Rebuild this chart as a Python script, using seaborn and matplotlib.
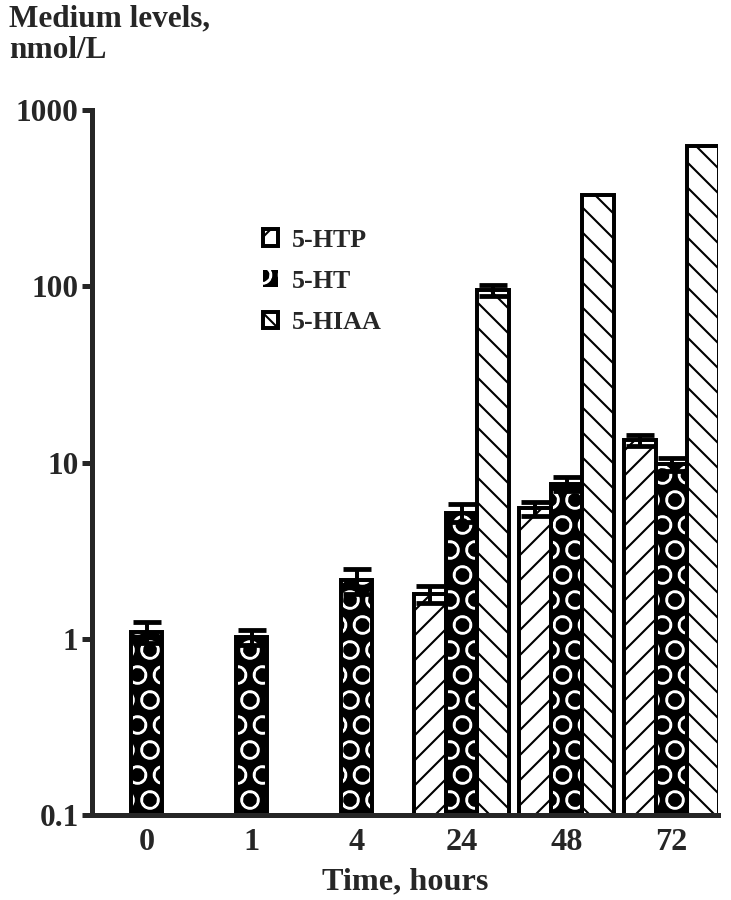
import numpy as np
import pandas as pd
import matplotlib
matplotlib.use("Agg")
import matplotlib.pyplot as plt
from matplotlib.patches import Patch, Rectangle
import seaborn as sns

# data (nmol/L), NaN = not detected
times = ["0", "1", "4", "24", "48", "72"]
compounds = ["5-HTP", "5-HT", "5-HIAA"]
htp = [np.nan, np.nan, np.nan, 1.8, 5.5, 13.4]
ht = [1.1, 1.02, 2.15, 5.2, 7.6, 9.8]
hiaa = [np.nan, np.nan, np.nan, 95.0, 330.0, 620.0]
# error (SEM), 0 = too small to show
htp_err = [np.nan, np.nan, np.nan, 0.2, 0.5, 0.9]
ht_err = [0.15, 0.1, 0.35, 0.6, 0.7, 0.8]
hiaa_err = [np.nan, np.nan, np.nan, 7.0, 0.0, 0.0]

rows = []
for name, vals, errs in [("5-HTP", htp, htp_err), ("5-HT", ht, ht_err), ("5-HIAA", hiaa, hiaa_err)]:
    for t, v, e in zip(times, vals, errs):
        rows.append({"time": t, "compound": name, "value": v, "err": e})
df = pd.DataFrame(rows).dropna(subset=["value"])

# drawn at 150 dpi so the hatch spacing comes out like the original
DPI = 150
sns.set_style("ticks")
plt.rcParams["font.family"] = ["Liberation Serif", "DejaVu Serif"]
plt.rcParams["font.weight"] = "bold"
plt.rcParams["hatch.linewidth"] = 1.0

fig = plt.figure(figsize=(731 / DPI, 900 / DPI), dpi=DPI)
ax = fig.add_axes([0.126, 0.094, 0.856, 0.784])
ax.set_yscale("log")

sns.barplot(data=df, x="time", y="value", hue="compound", order=times,
            hue_order=compounds, errorbar=None, width=0.9, ax=ax,
            palette=["white", "black", "white"], edgecolor="black",
            linewidth=1.9, legend=False)

hatches = {"5-HTP": "//", "5-HT": "O", "5-HIAA": "\\\\"}
for cont, name in zip(ax.containers, compounds):
    sub = df[df.compound == name].set_index("time")
    sub = sub.loc[[t for t in times if t in sub.index]]
    for bar, (t, r) in zip(cont, sub.iterrows()):
        if name == "5-HT":
            bar.set_facecolor("black")
            bar.set_edgecolor("white")
            bar.set_linewidth(0)
            ax.add_patch(Rectangle(bar.get_xy(), bar.get_width(), bar.get_height(),
                                   facecolor="none", edgecolor="black", linewidth=1.9,
                                   zorder=bar.get_zorder() + 0.1))
        bar.set_hatch(hatches[name])
        if r["err"] > 0:
            xc = bar.get_x() + bar.get_width() / 2
            ax.errorbar(xc, r["value"], yerr=r["err"], fmt="none",
                        ecolor="black", elinewidth=1.9, capsize=6.5, capthick=2.3,
                        zorder=5)

ax.set_ylim(0.1, 1000)
ax.set_xlim(-0.52, 5.44)
ax.set_yticks([0.1, 1, 10, 100, 1000])
ax.set_yticklabels(["0.1", "1", "10", "100", "1000"])
ax.yaxis.set_minor_locator(matplotlib.ticker.NullLocator())
sns.despine(ax=ax)
for s in ["left", "bottom"]:
    ax.spines[s].set_linewidth(2.4)
ax.tick_params(axis="y", length=5, width=2.4, labelsize=15, pad=1.5)
ax.tick_params(axis="x", length=0, labelsize=15.5, pad=6)
for lab in ax.get_xticklabels() + ax.get_yticklabels():
    lab.set_fontweight("bold")
ax.set_xlabel("Time, hours", fontsize=15.5, fontweight="bold", labelpad=5)
ax.set_ylabel("")

fig.text(0.012, 0.995, "Medium levels,\nnmol/L", ha="left", va="top",
         fontsize=15, fontweight="bold", linespacing=1.1)

handles = [
    Patch(facecolor="white", edgecolor="black", hatch="//", linewidth=1.9),
    Patch(facecolor="black", edgecolor="white", hatch="O", linewidth=0),
    Patch(facecolor="white", edgecolor="black", hatch="\\\\", linewidth=1.9),
]
leg = ax.legend(handles, compounds, loc="upper left", bbox_to_anchor=(0.252, 0.85),
                frameon=False, fontsize=12.5, handlelength=0.6, handleheight=0.6,
                labelspacing=0.7, handletextpad=0.5, borderpad=0)
for t in leg.get_texts():
    t.set_fontweight("bold")

fig.savefig("out.png", dpi=DPI)
